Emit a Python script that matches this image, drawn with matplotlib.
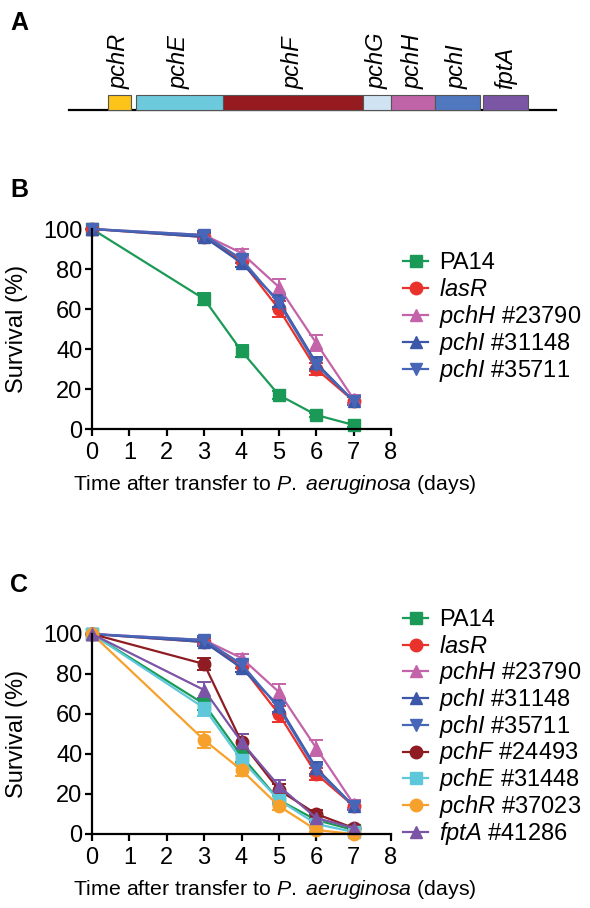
import numpy as np
import matplotlib
matplotlib.use("Agg")
import matplotlib.pyplot as plt
from matplotlib.patches import Rectangle
from matplotlib.lines import Line2D

plt.rcParams['font.family'] = ['Liberation Sans', 'DejaVu Sans']
plt.rcParams['mathtext.fontset'] = 'custom'
plt.rcParams['mathtext.rm'] = 'Liberation Sans'
plt.rcParams['mathtext.it'] = 'Liberation Sans:italic'
plt.rcParams['font.size'] = 17

# panel A: pch gene cluster (schematic map units)
genes = ['pchR', 'pchE', 'pchF', 'pchG', 'pchH', 'pchI', 'fptA']
gene_start = [39, 67, 154, 294, 322, 366, 414]
gene_end = [62, 154, 294, 322, 366, 411, 459]
gene_colors = ['#fcc419', '#6dcadc', '#961b20', '#d0e3f3', '#c064a8', '#4f78be', '#7b56a5']
locus_len = 487

# survival data (days, % survival, SEM)
days = [0, 3, 4, 5, 6, 7]
pa14 = [100, 65, 39, 17, 7, 2]
pa14_err = [0, 3, 3, 2, 1, 1]
lasR = [100, 96, 84, 60, 30, 14]
lasR_err = [0, 2, 3, 4, 3, 2]
pchH_23790 = [100, 97, 88, 71, 43, 15]
pchH_23790_err = [0, 2, 2, 4, 4, 2]
pchI_31148 = [100, 96, 83, 64, 33, 14]
pchI_31148_err = [0, 2, 2, 3, 3, 2]
pchI_35711 = [100, 97, 85, 63, 32, 14]
pchI_35711_err = [0, 2, 2, 3, 3, 2]
pchF_24493 = [100, 85, 46, 22, 10, 3]
pchF_24493_err = [0, 3, 4, 3, 2, 1]
pchE_31448 = [100, 63, 37, 17, 5, 1]
pchE_31448_err = [0, 4, 3, 2, 1, 1]
pchR_37023 = [100, 47, 32, 14, 2, 0]
pchR_37023_err = [0, 4, 3, 2, 1, 0]
fptA_41286 = [100, 72, 46, 24, 8, 3]
fptA_41286_err = [0, 4, 4, 3, 2, 1]

strains_b = [
    ('PA14', pa14, pa14_err, '#1b9a57', 's'),
    (r'$\it{lasR}$', lasR, lasR_err, '#e8322b', 'o'),
    (r'$\it{pchH}$ #23790', pchH_23790, pchH_23790_err, '#c363a9', '^'),
    (r'$\it{pchI}$ #31148', pchI_31148, pchI_31148_err, '#3b58a8', '^'),
    (r'$\it{pchI}$ #35711', pchI_35711, pchI_35711_err, '#4866b8', 'v'),
]
strains_c = strains_b + [
    (r'$\it{pchF}$ #24493', pchF_24493, pchF_24493_err, '#8e1c22', 'o'),
    (r'$\it{pchE}$ #31448', pchE_31448, pchE_31448_err, '#5ec8da', 's'),
    (r'$\it{pchR}$ #37023', pchR_37023, pchR_37023_err, '#f7a12d', 'o'),
    (r'$\it{fptA}$ #41286', fptA_41286, fptA_41286_err, '#7b54a5', '^'),
]

W, H = 590, 908
fig = plt.figure(figsize=(W / 100, H / 100), dpi=100)

def px_axes(left, top, right, bottom):
    return fig.add_axes([left / W, 1 - bottom / H, (right - left) / W, (bottom - top) / H])

# ---- panel A
ax_a = px_axes(69, 95, 556, 110)
ax_a.set_xlim(0, locus_len)
ax_a.set_ylim(0, 1)
ax_a.axis('off')
ax_a.plot([0, locus_len], [0, 0], color='black', lw=1.6, clip_on=False, zorder=1)
for g, s, e, c in zip(genes, gene_start, gene_end, gene_colors):
    ax_a.add_patch(Rectangle((s, 0), e - s, 1, facecolor=c, edgecolor='#555555',
                             lw=0.8, clip_on=False, zorder=2))
    ax_a.annotate(g, xy=((s + e) / 2, 1), xytext=(0, 4), textcoords='offset points',
                  rotation=90, ha='center', va='bottom', style='italic', fontsize=17)

# ---- survival panels
def survival_panel(top, bottom, strains, leg_top, leg_step):
    ax = px_axes(92, top, 391, bottom)
    for lab, y, err, col, mk in strains:
        ax.errorbar(days, y, yerr=err, color=col, marker=mk, markersize=9,
                    lw=1.6, capsize=5, capthick=1.4, elinewidth=1.4, clip_on=False)
    ax.set_xlim(0, 8)
    ax.set_ylim(0, 100)
    ax.set_xticks(range(0, 9))
    ax.set_yticks(range(0, 101, 20))
    for side in ['top', 'right']:
        ax.spines[side].set_visible(False)
    for side in ['left', 'bottom']:
        ax.spines[side].set_linewidth(1.6)
    ax.tick_params(width=1.6, length=5, labelsize=17)
    ax.tick_params(axis='x', pad=4)
    ax.tick_params(axis='y', pad=2)
    ax.set_ylabel('Survival (%)', fontsize=17)
    ax.yaxis.set_label_coords(-0.215, 0.5)
    ax.set_xlabel(r'Time after transfer to $\it{P.}$ $\it{aeruginosa}$ (days)',
                  fontsize=15.3)
    ax.xaxis.set_label_coords(0.61, -0.22)
    # legend, one row per strain
    for i, (lab, y, err, col, mk) in enumerate(strains):
        yc = 1 - (leg_top + i * leg_step) / H
        fig.add_artist(Line2D([403 / W, 415.5 / W, 428 / W], [yc] * 3, color=col, lw=1.6,
                              marker=mk, markersize=9, markevery=[1],
                              transform=fig.transFigure))
        fig.text(439 / W, yc - 8 / H, lab, fontsize=17, va='baseline', ha='left')
    return ax

ax_b = survival_panel(229, 429, strains_b, 261, 27)
ax_c = survival_panel(634, 834, strains_c, 618, 26.7)

fig.text(10 / W, 1 - 30 / H, 'A', fontsize=18, fontweight='bold')
fig.text(10 / W, 1 - 197 / H, 'B', fontsize=18, fontweight='bold')
fig.text(10 / W, 1 - 592 / H, 'C', fontsize=18, fontweight='bold')

fig.savefig('out.png', dpi=100)
